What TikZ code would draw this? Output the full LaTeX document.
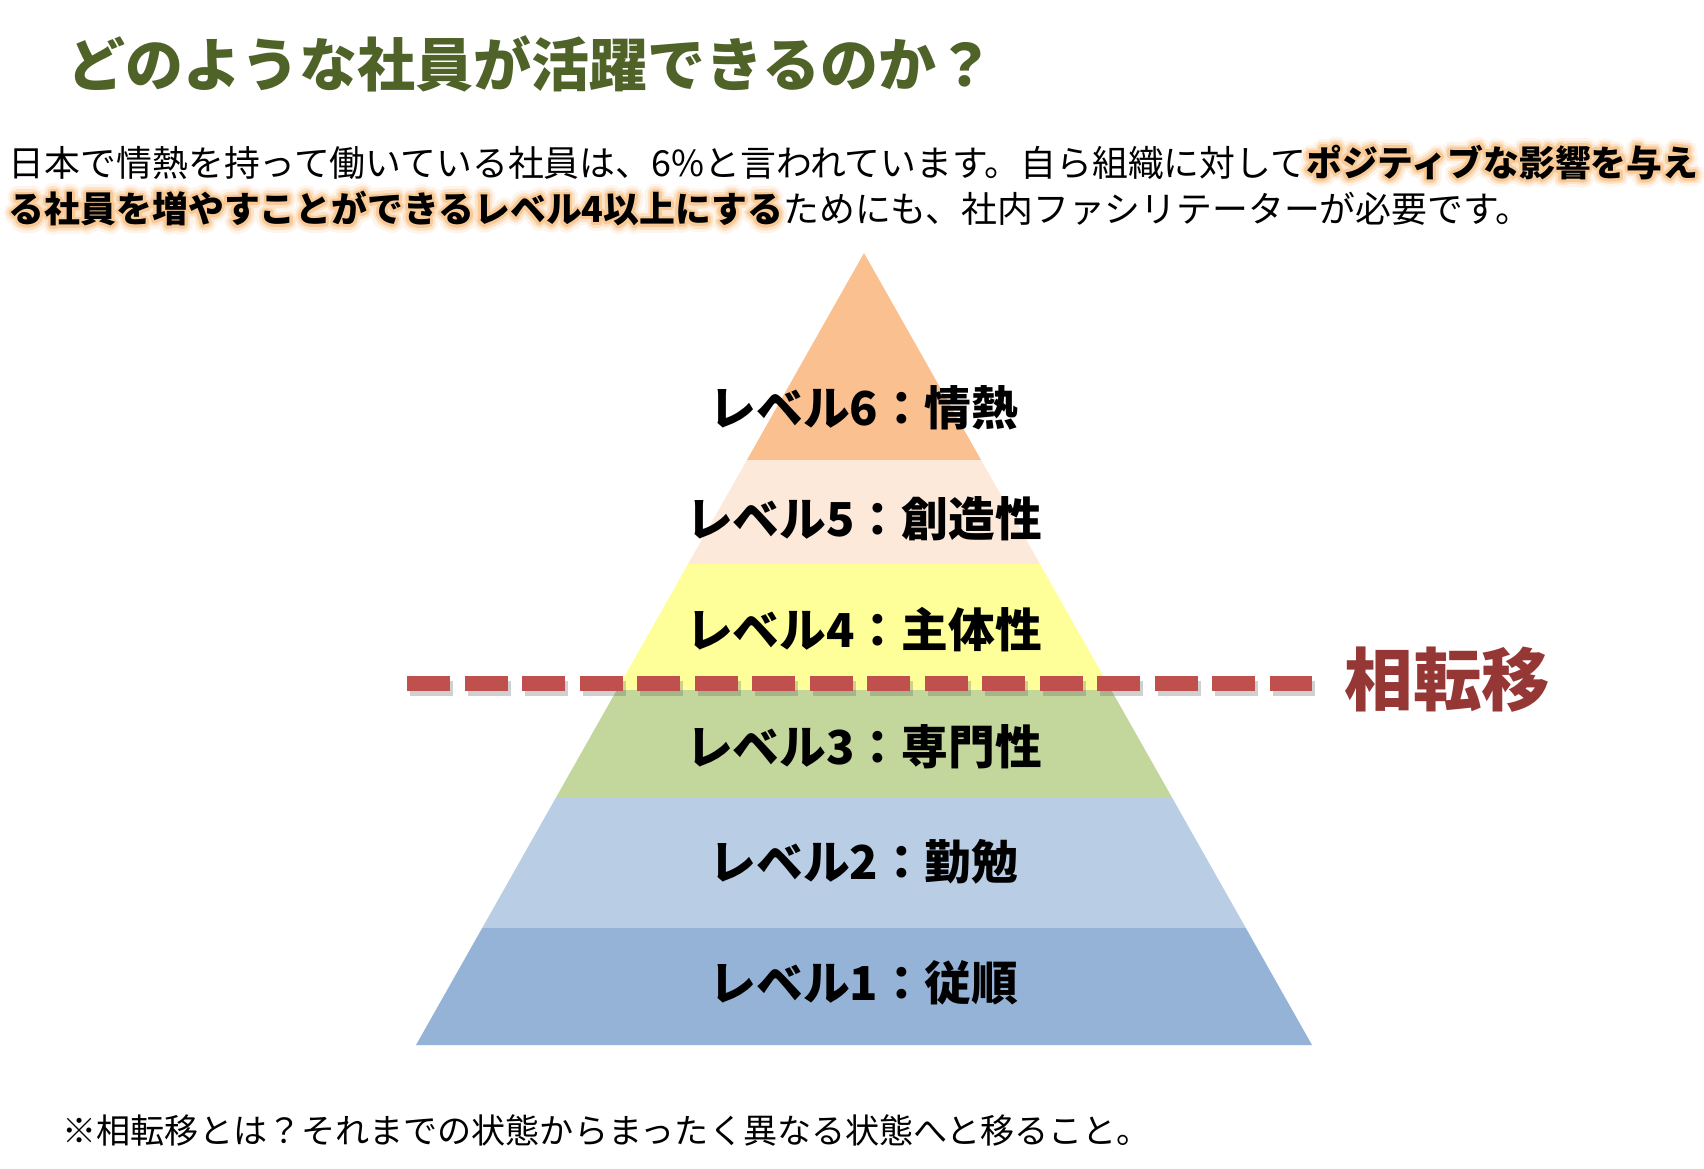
\documentclass[tikz,border=0pt]{standalone}
\usepackage{fontspec}
\setmainfont{Noto Sans CJK JP}
\usepackage{xcolor}
\usetikzlibrary{calc,positioning,backgrounds}
\definecolor{ttlGreen}{HTML}{4F6228}
\definecolor{lvSix}{HTML}{FAC090}
\definecolor{lvFive}{HTML}{FDE9D9}
\definecolor{lvFour}{HTML}{FFFF99}
\definecolor{lvThree}{HTML}{C3D69B}
\definecolor{lvTwo}{HTML}{B9CDE5}
\definecolor{lvOne}{HTML}{95B3D7}
\definecolor{shiftRed}{HTML}{C0504D}
\definecolor{shiftText}{HTML}{953735}
\definecolor{glowA}{HTML}{FEF4EA}
\definecolor{glowB}{HTML}{FCE2C6}
\definecolor{glowC}{HTML}{F9C996}
\tikzset{
  para/.style={font=\fontsize{10.2}{12}\selectfont, inner sep=0pt, outer sep=0pt},
  hl/.style={para, font=\fontsize{10.2}{12}\selectfont\bfseries},
  lvl/.style={font=\fontsize{13.3}{16}\selectfont\bfseries, inner sep=0pt},
  band/.style={draw=none},
  cut/.style={line width=1.5mm, dash pattern=on 4.31mm off 1.44mm},
}
% orange halo behind highlighted words
\newcommand\glowtext[2]{%
  \foreach \gr/\gc in {0.85mm/glowA, 0.55mm/glowB, 0.28mm/glowC}{
    \foreach \a in {0,20,...,340}{
      \node[hl, text=\gc, anchor=base west] at ($(#1)+(\a:\gr)$) {#2};
    }
  }%
}

\begin{document}
\begin{tikzpicture}
\begin{scope}[on background layer]
  \fill[white] (0,0) rectangle (17.04,-11.68);
\end{scope}
\useasboundingbox (0,0) rectangle (17.04,-11.68);

\node[font=\fontsize{16.5}{20}\selectfont\bfseries, text=ttlGreen, anchor=west, inner sep=0pt] (title) at (0.67,-0.64) {どのような社員が活躍できるのか？};

% paragraph, two lines
\node[para, anchor=west] (p1a) at (0.09,-1.63) {日本で情熱を持って働いている社員は、6\%と言われています。自ら組織に対して};
\node[hl, anchor=base west] (p1b) at (p1a.base east) {ポジティブな影響を与え};
\node[hl, anchor=west] (p2a) at (0.09,-2.09) {る社員を増やすことができるレベル4以上にする};
\node[para, anchor=base west] (p2b) at (p2a.base east) {ためにも、社内ファシリテーターが必要です。};
\begin{scope}[on background layer]
  \glowtext{p1b.base west}{ポジティブな影響を与え}
  \glowtext{p2a.base west}{る社員を増やすことができるレベル4以上にする}
\end{scope}

% pyramid
\coordinate (top) at (8.64,-2.53);
\coordinate (bl) at (4.16,-10.45);
\coordinate (br) at (13.12,-10.45);
\begin{scope}
  \clip (top) -- (bl) -- (br) -- cycle;
  \foreach \yt/\yb/\col in {-2.50/-4.60/lvSix, -4.60/-5.64/lvFive, -5.64/-6.90/lvFour,
                            -6.90/-7.97/lvThree, -7.97/-9.28/lvTwo, -9.28/-10.50/lvOne}{
    \fill[band, \col] (4,\yt) rectangle (13.3,\yb);
  }
\end{scope}
\node[lvl] (lv6) at (8.64,-4.08) {レベル6：情熱};
\node[lvl] (lv5) at (8.64,-5.19) {レベル5：創造性};
\node[lvl] (lv4) at (8.64,-6.30) {レベル4：主体性};
\node[lvl] (lv3) at (8.64,-7.47) {レベル3：専門性};
\node[lvl] (lv2) at (8.64,-8.62) {レベル2：勤勉};
\node[lvl] (lv1) at (8.64,-9.83) {レベル1：従順};

% phase-transition line
\coordinate (dl) at (4.07,-6.835);
\coordinate (dr) at (13.12,-6.835);
\draw[cut, black!60, opacity=0.3] ($(dl)+(0.03,-0.05)$) -- ($(dr)+(0.03,-0.05)$);
\draw[cut, shiftRed] (dl) -- (dr);
\node[font=\fontsize{19.5}{22}\selectfont\bfseries, text=shiftText, anchor=west, inner sep=0pt] (phase) at (13.44,-6.80) {相転移};

\node[font=\fontsize{9.7}{11}\selectfont, anchor=west, inner sep=0pt] (note) at (0.62,-11.30) {※相転移とは？それまでの状態からまったく異なる状態へと移ること。};
\end{tikzpicture}
\end{document}
